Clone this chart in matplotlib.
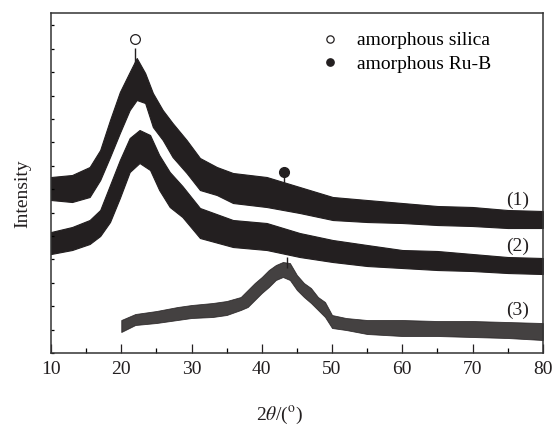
import matplotlib
matplotlib.use("Agg")
import matplotlib.pyplot as plt
import numpy as np

plt.rcParams['font.family'] = ['Liberation Serif', 'DejaVu Serif']
plt.rcParams['mathtext.fontset'] = 'stix'

ink = '#231f20'

# intensity in arbitrary units, read as upper / lower edge of each noisy band

# sample (1)
x1 = [10, 13, 15.5, 17, 18.4, 19.8, 21.2, 22.2, 23.4, 24.5, 25.9, 27.3, 29.3,
      31.2, 33.6, 35.9, 40.7, 45.4, 50.1, 55, 60, 65, 70, 75, 80]
s1_hi = [176, 178, 186, 203, 233, 261, 281, 295, 280, 260, 243, 230, 213,
         195, 186, 180, 176, 166, 156, 153, 150, 147, 146, 143, 142]
s1_lo = [153, 151, 156, 173, 196, 220, 243, 253, 250, 226, 213, 196, 180,
         163, 158, 150, 146, 140, 133, 131, 130, 128, 127, 125, 125]

# sample (2)
x2 = [10, 13, 15.5, 17, 18.4, 19.8, 21.2, 22.6, 24.1, 25.4, 26.9, 28.7,
      31.2, 35.9, 40.7, 45.4, 50.1, 55, 60, 65, 70, 75, 80]
s2_hi = [121, 126, 133, 143, 168, 193, 215, 223, 218, 198, 181, 167,
         145, 133, 130, 120, 113, 108, 103, 102, 99, 96, 95]
s2_lo = [99, 103, 109, 117, 131, 155, 181, 190, 183, 163, 146, 136,
         115, 106, 103, 96, 91, 87, 85, 83, 82, 80, 79]

# sample (3), recorded from 20 deg
x3 = [20, 22, 25, 28, 30, 33, 35, 37, 38, 39, 40, 41, 42, 43,
      44, 45, 46, 47, 48, 49, 50, 52, 55, 60, 65, 70, 75, 80]
s3_hi = [33, 39, 42, 46, 48, 50, 52, 56, 63, 70, 76, 83, 88, 91,
         90, 78, 70, 65, 56, 51, 38, 35, 33, 33, 32, 32, 31, 30]
s3_lo = [21, 28, 30, 33, 35, 36, 38, 43, 46, 53, 60, 66, 73, 76,
         73, 63, 56, 50, 43, 36, 25, 23, 19, 17, 17, 16, 15, 13]

# tallest single spikes: (2theta, base, top)
spikes = [(21.95, 270, 305), (43.1, 160, 181), (43.6, 85, 96)]

# phase markers
silica_pos = (22.0, 314)
rub_pos = (43.1, 181)

curve_labels = ['(1)', '(2)', '(3)']
curve_label_y = [153, 107, 43]

fig = plt.figure(figsize=(5.55, 4.28), dpi=100)
ax = fig.add_axes([0.0919, 0.1752, 0.8861, 0.7944])

ax.fill_between(x1, s1_lo, s1_hi, color=ink, lw=0.8, edgecolor=ink)
ax.fill_between(x2, s2_lo, s2_hi, color=ink, lw=0.8, edgecolor=ink)
ax.fill_between(x3, s3_lo, s3_hi, color=ink, alpha=0.85, lw=0.6, edgecolor=ink)
for sx, lo, hi in spikes:
    ax.vlines(sx, lo, hi, color=ink, lw=1.0)

ax.plot(*silica_pos, 'o', mfc='white', mec=ink, mew=0.9, ms=7, label='amorphous silica')
ax.plot(*rub_pos, 'o', mfc=ink, mec=ink, ms=7, label='amorphous Ru-B')

for lab, y in zip(curve_labels, curve_label_y):
    ax.text(76.4, y, lab, fontsize=14, ha='center', va='center', color=ink)

ax.legend(loc='upper left', bbox_to_anchor=(0.547, 0.945), frameon=False,
          fontsize=14, markerscale=0.75, handlelength=1.0, handletextpad=0.9,
          labelspacing=0.3, borderpad=0, borderaxespad=0)

ax.set_xlim(10, 80)
ax.set_ylim(0, 340)
ax.set_xticks(np.arange(10, 81, 10))
ax.set_xticks(np.arange(15, 80, 10), minor=True)
ax.set_yticks(np.arange(23.4, 340, 46.8))
ax.set_yticks(np.arange(0, 340, 23.4), minor=True)
ax.tick_params(axis='x', which='major', direction='in', length=6.3, width=0.9, pad=6,
               labelsize=14, colors=ink)
ax.tick_params(axis='x', which='minor', direction='in', length=3.6, width=0.9)
ax.tick_params(axis='y', which='both', direction='in', length=2, width=0.9, labelleft=False)
for sp in ax.spines.values():
    sp.set_linewidth(1.1)
    sp.set_color('#333333')

ax.set_xlabel('2$\\theta$/($^{\\rm o}$)', fontsize=14, color=ink)
ax.xaxis.set_label_coords(0.464, -0.15)
ax.set_ylabel('Intensity', fontsize=14, color=ink)
ax.yaxis.set_label_coords(-0.041, 0.47)

fig.savefig('out.png', dpi=100)
